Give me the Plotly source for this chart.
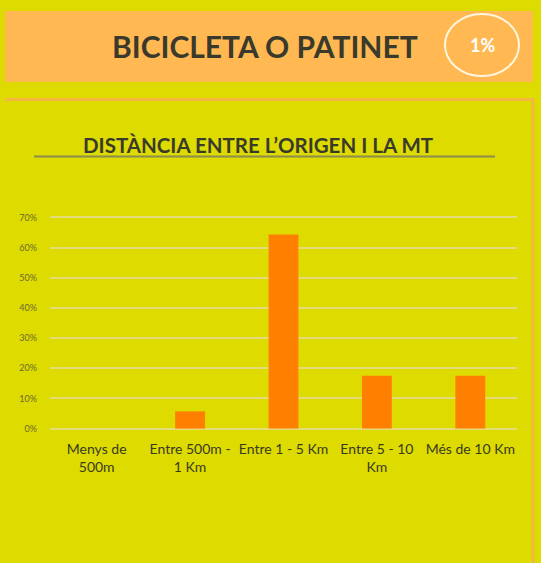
import plotly.graph_objects as go

categories = ["Menys de<br>500m", "Entre 500m -<br>1 Km", "Entre 1 - 5 Km", "Entre 5 - 10<br>Km", "Més de 10 Km"]
values = [0.0, 0.057, 0.643, 0.175, 0.175]
tick_vals = [0, 0.1, 0.2, 0.3, 0.4, 0.5, 0.6, 0.7]
tick_text = ["0%", "10%", "20%", "30%", "40%", "50%", "60%", "70%"]
header_title = "BICICLETA O PATINET"
header_share = "1%"
chart_title = "DISTÀNCIA ENTRE L’ORIGEN I LA MT"

W, H = 541, 563
L, R, T, B = 50, 517, 215, 431  # plot area in pixels

def px(x):
    return (x - L) / (R - L)

def py(y):
    return (B - y) / (B - T)

BG = "#DDDB00"
FONT = "Lato"

fig = go.Figure()
fig.add_trace(go.Bar(
    x=categories, y=values,
    marker=dict(color="#FF8000", line=dict(width=0)),
    width=0.32,
    hoverinfo="skip",
))

shapes = [
    dict(type="rect", xref="paper", yref="paper", x0=px(5), x1=px(533), y0=py(82), y1=py(11),
         fillcolor="#FFB852", line=dict(width=0), layer="below"),
    dict(type="circle", xref="paper", yref="paper", x0=px(445), x1=px(519), y0=py(76), y1=py(14),
         line=dict(color="#FFF6E0", width=2), fillcolor="rgba(0,0,0,0)"),
    dict(type="line", xref="paper", yref="paper", x0=px(5), x1=px(534), y0=py(99.5), y1=py(99.5),
         line=dict(color="#F4B840", width=3)),
    dict(type="line", xref="paper", yref="paper", x0=px(533), x1=px(533), y0=py(99), y1=py(570),
         line=dict(color="#F4B840", width=3)),
    dict(type="line", xref="paper", yref="paper", x0=px(34), x1=px(495), y0=py(156.5), y1=py(156.5),
         line=dict(color="#8C8C50", width=2)),
]

annotations = [
    dict(text=f"<b>{header_title}</b>", xref="paper", yref="paper", x=px(265), y=py(46),
         xanchor="center", yanchor="middle", showarrow=False,
         font=dict(family=FONT, size=30, color="#3A3A2C")),
    dict(text=f"<b>{header_share}</b>", xref="paper", yref="paper", x=px(482), y=py(45),
         xanchor="center", yanchor="middle", showarrow=False,
         font=dict(family=FONT, size=18, color="#FFFFFF")),
    dict(text=f"<b>{chart_title}</b>", xref="paper", yref="paper", x=px(258), y=py(145),
         xanchor="center", yanchor="middle", showarrow=False,
         font=dict(family=FONT, size=20.5, color="#3A3A2C")),
]

fig.update_layout(
    width=W, height=H,
    margin=dict(l=L, r=W - R, t=T, b=H - B, pad=0),
    paper_bgcolor=BG, plot_bgcolor=BG,
    showlegend=False,
    shapes=shapes,
    annotations=annotations,
    font=dict(family=FONT),
    xaxis=dict(showgrid=False, showline=False, zeroline=False, ticks="",
               tickfont=dict(family=FONT, size=14, color="#3A3A20"), ticklabelstandoff=8,
               fixedrange=True),
    yaxis=dict(range=[-0.008, 0.708], tickvals=tick_vals, ticktext=tick_text,
               showgrid=True, gridcolor="#E4DC78", gridwidth=1.5,
               zeroline=False, showline=False, ticks="",
               tickfont=dict(family=FONT, size=9, color="#6E6A30"), ticklabelstandoff=12,
               fixedrange=True),
)

fig.write_html("out.html", config={"displayModeBar": False},
               post_script="document.body.style.margin='0';document.body.style.overflow='hidden';")
